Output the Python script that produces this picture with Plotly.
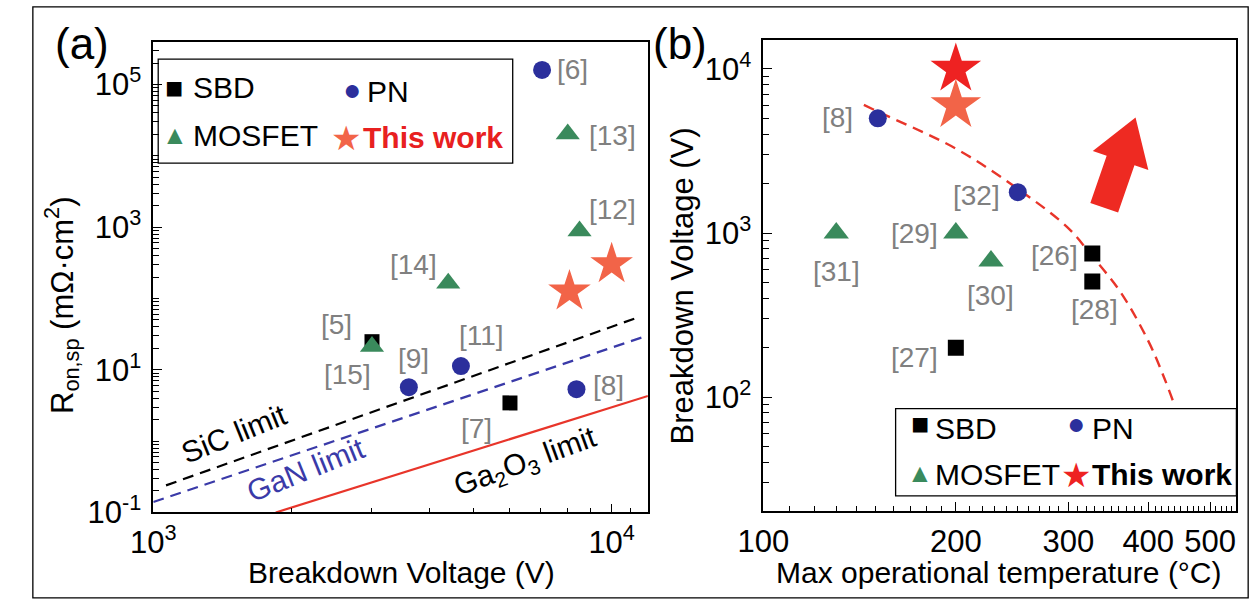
import math
import plotly.graph_objects as go

W, H = 1256, 612
FONT = "Liberation Sans, Arial, sans-serif"
GRAY = "#808080"
C_SBD = "#000000"
C_PN = "#2b2f9c"
C_MOS = "#3a8a5c"
C_STAR = "#f26448"
C_STAR_RED = "#ee2222"
C_LINE_RED = "#e8352a"
C_GAN = "#3a3aa8"

# ---------------- Panel (a): Ron,sp vs breakdown voltage ----------------
a_sbd_bv = [3000, 6000]
a_sbd_ron = [24.8, 3.44]
a_sbd_ref = ["[5]", "[7]"]

a_pn_bv = [7050, 3610, 4690, 8380]
a_pn_ron = [1.6e5, 5.7, 11.3, 5.35]
a_pn_ref = ["[6]", "[9]", "[11]", "[8]"]

a_mos_bv = [8020, 8510, 4400, 3000]
a_mos_ron = [2.02e4, 884, 163, 21.2]
a_mos_ref = ["[13]", "[12]", "[14]", "[15]"]

a_this_bv = [8090, 10000]
a_this_ron = [126, 304]

sic_bv = [1066, 11380]
sic_ron = [0.24, 54]
gan_bv = [1000, 11750]
gan_ron = [0.14, 29]
ga2o3_bv = [1850, 12000]
ga2o3_ron = [0.1, 4.3]

# ---------------- Panel (b): breakdown voltage vs max temperature ----------------
b_sbd_t = [200, 327, 327]
b_sbd_v = [200, 750, 507]
b_sbd_ref = ["[27]", "[26]", "[28]"]

b_pn_t = [151, 250]
b_pn_v = [5000, 1775]
b_pn_ref = ["[8]", "[32]"]

b_mos_t = [130, 200, 227]
b_mos_v = [1000, 1000, 675]
b_mos_ref = ["[31]", "[29]", "[30]"]

b_this_t = [200, 200]
b_this_v = [10000, 6000]

trend_t = [143.6, 151, 200, 249.5, 299, 327, 362, 400, 423, 438]
trend_v = [6040, 5500, 3270, 1870, 1083, 721, 436, 220, 133, 93]

# label offsets in pixels (dx right, dy up)
a_sbd_off = [(-35, 17), (-33, -26)]
a_pn_off = [(30, 0), (5, 29), (21, 31), (32, 4)]
a_mos_off = [(45, -1), (33, 21), (-35, 19), (-24, -28)]
b_sbd_off = [(-41, -10), (-38, -2), (2, -28)]
b_pn_off = [(-40, 1), (-41, -3)]
b_mos_off = [(0, -38), (-41, 0), (0, -34)]


def px(x):
    return x / W


def py(y):
    return 1 - y / H


fig = go.Figure()

# limit lines (panel a)
fig.add_trace(go.Scatter(x=sic_bv, y=sic_ron, mode="lines", xaxis="x", yaxis="y",
                         line=dict(color="black", width=2.2, dash="11px,7px"), showlegend=False))
fig.add_trace(go.Scatter(x=gan_bv, y=gan_ron, mode="lines", xaxis="x", yaxis="y",
                         line=dict(color=C_GAN, width=2.2, dash="11px,7px"), showlegend=False))
fig.add_trace(go.Scatter(x=ga2o3_bv, y=ga2o3_ron, mode="lines", xaxis="x", yaxis="y",
                         line=dict(color=C_LINE_RED, width=2.2), showlegend=False))

# markers panel a
fig.add_trace(go.Scatter(x=a_sbd_bv, y=a_sbd_ron, mode="markers", xaxis="x", yaxis="y",
                         marker=dict(symbol="square", size=15, color=C_SBD), showlegend=False))
fig.add_trace(go.Scatter(x=a_pn_bv, y=a_pn_ron, mode="markers", xaxis="x", yaxis="y",
                         marker=dict(symbol="circle", size=18, color=C_PN), showlegend=False))
fig.add_trace(go.Scatter(x=a_mos_bv, y=a_mos_ron, mode="markers", xaxis="x", yaxis="y",
                         marker=dict(symbol="triangle-up", size=21, color=C_MOS), showlegend=False))
fig.add_trace(go.Scatter(x=a_this_bv, y=a_this_ron, mode="markers", xaxis="x", yaxis="y",
                         marker=dict(symbol="star", size=32, color=C_STAR), showlegend=False))

# panel b
fig.add_trace(go.Scatter(x=trend_t, y=trend_v, mode="lines", xaxis="x2", yaxis="y2",
                         line=dict(color=C_LINE_RED, width=2.4, dash="11px,7px", shape="spline"),
                         showlegend=False))
fig.add_trace(go.Scatter(x=b_sbd_t, y=b_sbd_v, mode="markers", xaxis="x2", yaxis="y2",
                         marker=dict(symbol="square", size=16, color=C_SBD), showlegend=False))
fig.add_trace(go.Scatter(x=b_pn_t, y=b_pn_v, mode="markers", xaxis="x2", yaxis="y2",
                         marker=dict(symbol="circle", size=18, color=C_PN), showlegend=False))
fig.add_trace(go.Scatter(x=b_mos_t, y=b_mos_v, mode="markers", xaxis="x2", yaxis="y2",
                         marker=dict(symbol="triangle-up", size=22, color=C_MOS), showlegend=False))
fig.add_trace(go.Scatter(x=b_this_t, y=b_this_v, mode="markers", xaxis="x2", yaxis="y2",
                         marker=dict(symbol="star", size=38, color=[C_STAR_RED, C_STAR]),
                         showlegend=False))

annotations = []


def ref_labels(xs, ys, refs, offs, xr, yr):
    for x, y, t, (dx, dy) in zip(xs, ys, refs, offs):
        annotations.append(dict(x=math.log10(x), y=math.log10(y), xref=xr, yref=yr, text=t,
                                showarrow=False, xshift=dx, yshift=dy,
                                font=dict(family=FONT, size=28, color=GRAY)))


ref_labels(a_sbd_bv, a_sbd_ron, a_sbd_ref, a_sbd_off, "x", "y")
ref_labels(a_pn_bv, a_pn_ron, a_pn_ref, a_pn_off, "x", "y")
ref_labels(a_mos_bv, a_mos_ron, a_mos_ref, a_mos_off, "x", "y")
ref_labels(b_sbd_t, b_sbd_v, b_sbd_ref, b_sbd_off, "x2", "y2")
ref_labels(b_pn_t, b_pn_v, b_pn_ref, b_pn_off, "x2", "y2")
ref_labels(b_mos_t, b_mos_v, b_mos_ref, b_mos_off, "x2", "y2")


def txt(x, y, text, size=30, color="black", angle=0, xanchor="center", yanchor="middle"):
    annotations.append(dict(x=px(x), y=py(y), xref="paper", yref="paper", text=text,
                            showarrow=False, textangle=angle, xanchor=xanchor, yanchor=yanchor,
                            font=dict(family=FONT, size=size, color=color)))


# limit labels
txt(213, 447, "SiC limit", 30, "black", -22)
txt(286, 484, "GaN limit", 30, C_GAN, -22)
txt(510, 476, "Ga<sub>2</sub>O<sub>3</sub> limit", 30, "black", -20)

# panel labels and axis titles
txt(57, 45, "(a)", 44)
txt(668, 45, "(b)", 44)
txt(383, 590, "Breakdown Voltage (V)", 30)
txt(994, 590, "Max operational temperature (°C)", 30)
txt(37, 315, "R<sub>on,sp</sub> (mΩ·cm<sup>2</sup>)", 31, angle=-90)
txt(670, 295, "Breakdown Voltage (V)", 31, angle=-90)

# legend (a)
txt(151, 90, "■", 30, C_SBD)
txt(168, 90, "SBD", 30, xanchor="left")
txt(333, 92, "●", 30, C_PN)
txt(346, 94, "PN", 30, xanchor="left")
txt(152, 139, "▲", 26, C_MOS)
txt(168, 140, "MOSFET", 30, xanchor="left")
txt(327, 142, "★", 34, C_STAR)
txt(342, 142, "<b>This work</b>", 30, "#e82020", xanchor="left")

# legend (b)
txt(913, 436, "■", 30, C_SBD)
txt(926, 441, "SBD", 30, xanchor="left")
txt(1072, 436, "●", 30, C_PN)
txt(1087, 441, "PN", 30, xanchor="left")
txt(913, 487, "▲", 26, C_MOS)
txt(926, 489, "MOSFET", 30, xanchor="left")
txt(1072, 489, "★", 34, C_STAR_RED)
txt(1086, 489, "<b>This work</b>", 30, xanchor="left")

# arrow polygon (decoration, pixel space)
Tx, Ty = 1133, 121
Bx, By = 1101, 214
L = math.hypot(Tx - Bx, Ty - By)
ux, uy = (Tx - Bx) / L, (Ty - By) / L
pxv, pyv = -uy, ux
Hx, Hy = Tx - 47 * ux, Ty - 47 * uy
pts = [(Bx - 15 * pxv, By - 15 * pyv), (Hx - 15 * pxv, Hy - 15 * pyv), (Hx - 30 * pxv, Hy - 30 * pyv),
       (Tx, Ty), (Hx + 30 * pxv, Hy + 30 * pyv), (Hx + 15 * pxv, Hy + 15 * pyv),
       (Bx + 15 * pxv, By + 15 * pyv)]
path = "M " + " L ".join(f"{px(x):.5f},{py(y):.5f}" for x, y in pts) + " Z"

shapes = [
    dict(type="path", path=path, xref="paper", yref="paper", fillcolor="#ee2a22",
         line=dict(width=0)),
    # legend boxes
    dict(type="rect", xref="paper", yref="paper", x0=px(135), x1=px(497), y0=py(168), y1=py(61),
         line=dict(color="black", width=1.3), fillcolor="rgba(0,0,0,0)"),
    dict(type="rect", xref="paper", yref="paper", x0=px(888), x1=px(1236), y0=py(511), y1=py(421),
         line=dict(color="black", width=1.3), fillcolor="rgba(0,0,0,0)"),
    # outer border
    dict(type="rect", xref="paper", yref="paper", x0=px(7), x1=px(1248), y0=py(616), y1=py(7),
         line=dict(color="black", width=1.3), fillcolor="rgba(0,0,0,0)"),
]


def minor_vals(lo_exp, hi_exp, extra=()):
    vals = []
    for e in range(lo_exp, hi_exp):
        for m in range(2, 10):
            vals.append(m * 10 ** e)
    return vals + list(extra)


axis_common = dict(type="log", showgrid=False, zeroline=False, showline=True, linecolor="black",
                   linewidth=1.6, mirror=True, ticks="inside", ticklen=9, tickwidth=1.4,
                   tickcolor="black", tickfont=dict(family=FONT, size=31, color="black"),
                   tickmode="array")

fig.update_layout(
    width=W, height=H, autosize=False, margin=dict(l=0, r=0, t=0, b=0),
    paper_bgcolor="white", plot_bgcolor="white", showlegend=False,
    xaxis=dict(axis_common, domain=[px(130), px(635)], anchor="y", range=[3, 4.079],
               tickvals=[1000, 10000], ticktext=["10<sup>3</sup>", "10<sup>4</sup>"],
               ticklabelstandoff=2,
               minor=dict(ticks="inside", ticklen=5, tickwidth=1.2, tickcolor="black",
                          tickmode="array", tickvals=minor_vals(3, 4, [11000, 12000]))),
    yaxis=dict(axis_common, domain=[py(528), py(43)], anchor="x", range=[-1, 5.6],
               tickvals=[0.1, 10, 1e3, 1e5],
               ticktext=["10<sup>-1</sup>", "10<sup>1</sup>", "10<sup>3</sup>", "10<sup>5</sup>"],
               ticklabelstandoff=4,
               minor=dict(ticks="inside", ticklen=6, tickwidth=1.2, tickcolor="black",
                          tickmode="array", tickvals=minor_vals(-1, 5, [1, 100, 1e4, 2e5, 3e5]))),
    xaxis2=dict(axis_common, domain=[px(753), px(1236)], anchor="y2", range=[2, 2.740],
                tickvals=[100, 200, 300, 400, 500], ticktext=["100", "200", "300", "400", "500"],
                ticklabelstandoff=2,
                minor=dict(ticks="inside", ticklen=5, tickwidth=1.2, tickcolor="black",
                           tickmode="array",
                           tickvals=[v for v in range(110, 551, 10) if v % 100 != 0])),
    yaxis2=dict(axis_common, domain=[py(526), py(41)], anchor="x2", range=[1.308, 4.178],
                tickvals=[100, 1000, 10000],
                ticktext=["10<sup>2</sup>", "10<sup>3</sup>", "10<sup>4</sup>"],
                ticklabelstandoff=4,
                minor=dict(ticks="inside", ticklen=6, tickwidth=1.2, tickcolor="black",
                           tickmode="array", tickvals=minor_vals(1, 4))),
    annotations=annotations,
    shapes=shapes,
)

fig.write_html("out.html", config={"displayModeBar": False})

# remove the default page margin so the figure sits at the window origin
with open("out.html", "r", encoding="utf-8") as f:
    html = f.read()
html = html.replace("<head>", "<head><style>html,body{margin:0;padding:0;overflow:hidden;}</style>", 1)
with open("out.html", "w", encoding="utf-8") as f:
    f.write(html)
